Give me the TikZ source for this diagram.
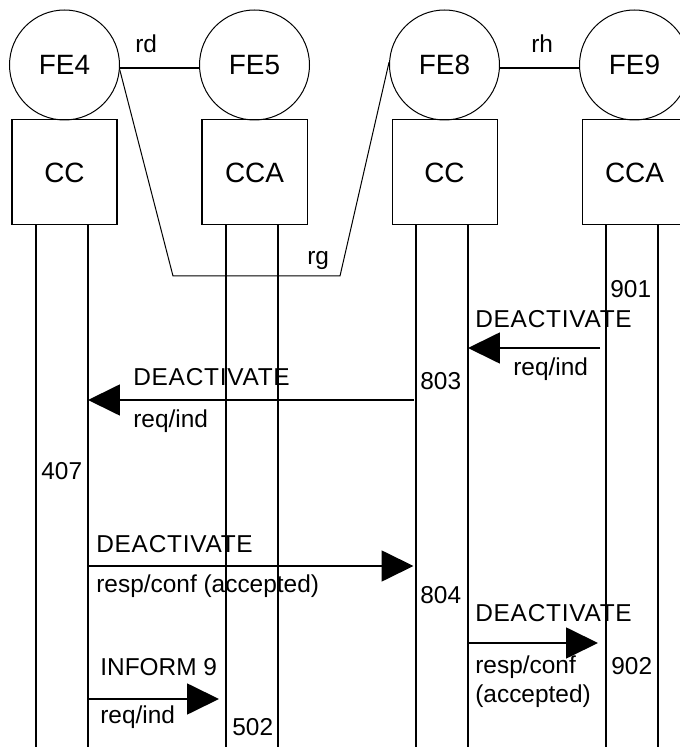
\documentclass[tikz,border=0pt]{standalone}
\usepackage{fontspec}
\setmainfont{Liberation Sans}
\usepackage{xcolor}
\usetikzlibrary{arrows.meta}
\definecolor{ink}{HTML}{000000}

\begin{document}
\begin{tikzpicture}[fe/.style={draw=ink,circle,minimum size=2.2cm,inner sep=0pt,line width=0.57pt,font=\fontsize{15.9}{18}\selectfont},
                    cbox/.style={draw=ink,minimum width=2.1cm,minimum height=2.1cm,inner sep=0pt,line width=0.57pt,font=\fontsize{15.9}{18}\selectfont},
                    life/.style={draw=ink,line width=1.14pt},
                    msg/.style={draw=ink,line width=1.14pt,-{Triangle[length=18.2pt,width=17.6pt]}},
                    lab/.style={font=\fontsize{13.9}{16}\selectfont,color=ink,anchor=base west,inner sep=0pt},
                    prim/.style={lab,font=\fontsize{13.9}{16}\selectfont\addfontfeature{LetterSpace=3}}]
  \useasboundingbox (0,0) rectangle (13.6,14.94);
  \clip (0,0) rectangle (13.6,14.94);
  % entities
  \foreach \n/\t/\x in {4/CC/1.29, 5/CCA/5.09, 8/CC/8.89, 9/CCA/12.69} {
    \node[fe] (fe\n) at (\x,13.64) {FE\n};
    \node[cbox] (cc\n) at (\x,11.49) {\t};
    \coordinate (la\n) at (\x-0.57,0);
    \coordinate (lb\n) at (\x+0.47,0);
    \draw[life] (cc\n.south -| la\n) -- (la\n);
    \draw[life] (cc\n.south -| lb\n) -- (lb\n);
  }
  \draw[ink,line width=1.14pt] (fe4.-3) -- (fe5.183);
  \draw[ink,line width=1.14pt] (fe8.-3) -- (fe9.183);
  \coordinate (rg1) at (3.46,9.42);
  \coordinate (rg2) at (6.80,9.42);
  \draw[ink,line width=0.57pt] (fe4.-5) -- (rg1) -- (rg2) -- (fe8.177);
  \node[lab] (rd) at (2.70,13.88) {rd};
  \node[lab] (rh) at (10.62,13.88) {rh};
  \node[lab] (rg) at (6.14,9.64) {rg};
  % messages
  \coordinate (m1) at (12.0,7.98);
  \coordinate (m2) at (8.28,6.94);
  \coordinate (m3) at (8.27,3.62);
  \coordinate (m4) at (11.96,2.08);
  \coordinate (m5) at (4.38,0.96);
  \draw[msg] (m1) -- (m1 -| lb8);
  \draw[msg] (m2) -- (m2 -| lb4);
  \draw[msg] (m3 -| lb4) -- (m3);
  \draw[msg] (m4 -| lb8) -- (m4);
  \draw[msg] (m5 -| lb4) -- (m5);
  \node[prim] (d1) at (9.50,8.38) {DEACTIVATE};
  \node[lab] (r1) at (10.26,7.42) {req/ind};
  \node[prim] (d2) at (2.66,7.22) {DEACTIVATE};
  \node[lab] (r2) at (2.66,6.38) {req/ind};
  \node[prim] (d3) at (1.92,3.90) {DEACTIVATE};
  \node[lab] (r3) at (1.92,3.08) {resp/conf (accepted)};
  \node[prim] (d4) at (9.50,2.50) {DEACTIVATE};
  \node[lab,align=left] (r4) at (9.50,0.90) {resp/conf\\(accepted)};
  \node[lab] (i5) at (2.00,1.44) {INFORM 9};
  \node[lab] (r5) at (2.00,0.46) {req/ind};
  % step numbers
  \foreach \s/\x/\y in {901/12.20/8.98, 803/8.40/7.14, 407/0.82/5.34, 804/8.40/2.86, 902/12.22/1.46, 502/4.64/0.24} {
    \node[lab] (s\s) at (\x,\y) {\s};
  }
\end{tikzpicture}
\end{document}
